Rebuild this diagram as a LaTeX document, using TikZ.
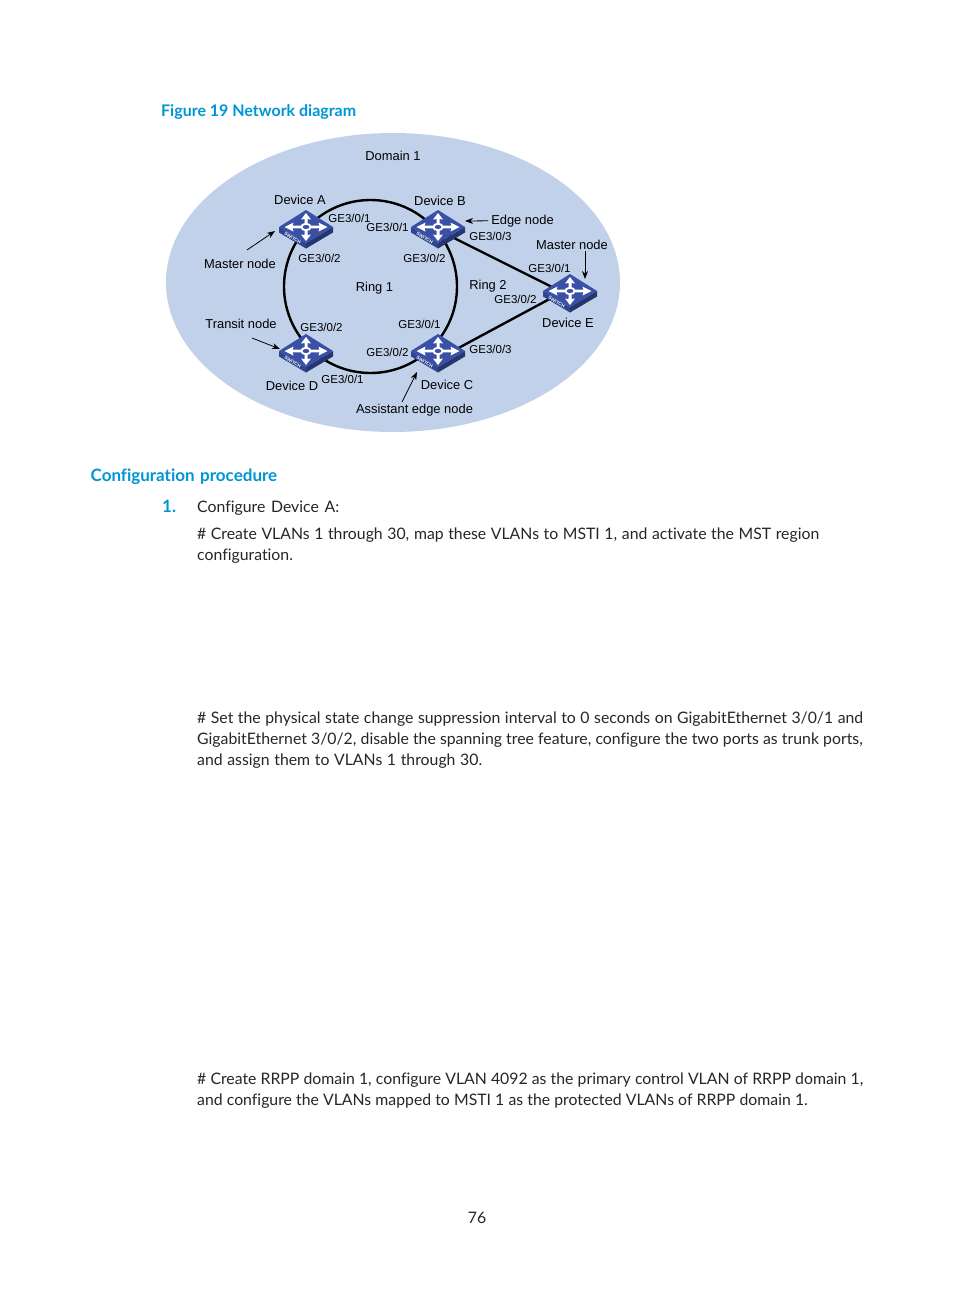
\documentclass[tikz,border=0pt]{standalone}
\usepackage{fontspec}
\setmainfont[Ligatures=NoCommon]{Lato}
\newfontfamily\diagfont{Liberation Sans}
\usetikzlibrary{arrows.meta}
\definecolor{domainblue}{HTML}{C2D1EA}
\definecolor{headblue}{HTML}{0096D6}
\definecolor{swtop}{HTML}{3A4FA6}
\definecolor{swleft}{HTML}{2F4590}
\definecolor{swright}{HTML}{26366F}
\tikzset{
  x=1pt,y=-1pt,
  diag/.style={font=\diagfont\fontsize{12.9}{14}\selectfont,inner sep=0pt,text=black,yshift=-0.8pt},
  port/.style={font=\diagfont\fontsize{11.5}{13}\selectfont,inner sep=0pt,text=black},
  body/.style={font=\fontsize{15.8}{18}\selectfont,inner sep=0pt,anchor=base west,text=black!85},
  head/.style={font=\bfseries\fontsize{17}{18}\selectfont,inner sep=0pt,anchor=base west,text=headblue},
  link/.style={line width=2.4pt,black},
  note/.style={line width=0.8pt,black,-{Stealth[length=8pt,width=6pt]}},
  swnode/.style={inner sep=0pt,minimum width=54pt,minimum height=38pt,shape=rectangle}
}
\newcommand{\switchicon}[1]{%
  \begin{scope}[shift={(#1)}]
    \fill[swleft] (-27,0) -- (0,16) -- (0,21.5) -- (-27,5.5) -- cycle;
    \fill[swright] (27,0) -- (0,16) -- (0,21.5) -- (27,5.5) -- cycle;
    \fill[swtop] (-27,0) -- (0,-17) -- (27,0) -- (0,16) -- cycle;
    \fill[white] (4,-1.3) -- (13.5,-1.3) -- (12.5,-4.5) -- (21.5,0) -- (12.5,4.5) -- (13.5,1.3) -- (4,1.3) -- cycle;
    \fill[white] (-4,-1.3) -- (-13.5,-1.3) -- (-12.5,-4.5) -- (-21.5,0) -- (-12.5,4.5) -- (-13.5,1.3) -- (-4,1.3) -- cycle;
    \fill[white] (-1.5,-3) -- (-1.5,-8) -- (-5,-7.5) -- (0,-14) -- (5,-7.5) -- (1.5,-8) -- (1.5,-3) -- cycle;
    \fill[white] (-1.5,3) -- (-1.5,8) -- (-5,7.5) -- (0,14) -- (5,7.5) -- (1.5,8) -- (1.5,3) -- cycle;
    \draw[white,line width=1.9pt,fill=swtop] (0,0) ellipse (4.6 and 3.2);
    \node[font=\diagfont\bfseries\fontsize{4.6}{5}\selectfont,text=white,rotate=-30.5,inner sep=0pt] at (-13.3,11) {SWITCH};
  \end{scope}}
\newcommand{\bodyline}[4]{\node[body] (#1) at (197,#2) {\makebox[#3][s]{#4}};}
\begin{document}
\begin{tikzpicture}
\useasboundingbox (0,0) rectangle (954,1296);
\fill[white] (0,0) rectangle (954,1296);
\node[head,font=\bfseries\fontsize{16}{18}\selectfont] (figtitle) at (161,116) {\makebox[195pt][s]{Figure 19 Network diagram}};
\node[fill=domainblue,shape=rectangle,inner sep=0pt,minimum size=0pt] (domainanchor) at (393,282.5) {};
\fill[domainblue] (domainanchor) ellipse (227 and 149.5);
\coordinate (ringcentre) at (370.5,286.5);
\draw[link] (ringcentre) circle (86.5);
\node[swnode] (devA) at (306,227) {};
\node[swnode] (devB) at (438,227) {};
\node[swnode] (devC) at (438,351) {};
\node[swnode] (devD) at (306,351) {};
\node[swnode] (devE) at (570,291) {};
\draw[link] ([yshift=-3pt]devB.center) -- ([yshift=-5pt]devE.center);
\draw[link] ([yshift=-8pt]devC.center) -- ([yshift=3pt]devE.center);
\switchicon{devA.center}
\switchicon{devB.center}
\switchicon{devC.center}
\switchicon{devD.center}
\switchicon{devE.center}
\node[diag] (domain) at (393,155) {Domain 1};
\node[diag] (labA) at (300,199) {Device A};
\node[diag] (labB) at (440,200) {Device B};
\node[diag] (labC) at (447,384) {Device C};
\node[diag] (labD) at (292,385) {Device D};
\node[diag] (labE) at (568,322) {Device E};
\node[diag] (ring1) at (374.5,287) {Ring 1};
\node[diag] (ring2) at (488,285) {Ring 2};
\node[diag] (edge) at (522.5,220) {Edge node};
\node[diag] (mastE) at (572,244) {Master node};
\node[diag] (mastA) at (240,263) {Master node};
\node[diag] (trans) at (241,323) {Transit node};
\node[diag] (assist) at (414.5,409.5) {Assistant edge node};
\node[port] at (349.5,218) {GE3/0/1};
\node[port] at (387.5,227) {GE3/0/1};
\node[port] at (319.5,258) {GE3/0/2};
\node[port] at (424.5,258) {GE3/0/2};
\node[port] at (490.5,236) {GE3/0/3};
\node[port] at (549.5,268) {GE3/0/1};
\node[port] at (515.5,299) {GE3/0/2};
\node[port] at (490.5,349) {GE3/0/3};
\node[port] at (419.5,324) {GE3/0/1};
\node[port] at (387.5,352) {GE3/0/2};
\node[port] at (321.5,327) {GE3/0/2};
\node[port] at (342.5,379) {GE3/0/1};
\coordinate (mastAtail) at (247,250);
\coordinate (mastAhead) at (275,231);
\draw[note] (mastAtail) -- (mastAhead);
\coordinate (edgehead) at (465,221);
\draw[note] (edge.west) ++(-3,0) -- (edgehead);
\coordinate (mastEtail) at (585,251);
\coordinate (mastEhead) at (585,279);
\draw[note] (mastEtail) -- (mastEhead);
\coordinate (transtail) at (252,338);
\coordinate (transhead) at (280,349);
\draw[note] (transtail) -- (transhead);
\coordinate (assisttail) at (402,402);
\coordinate (assisthead) at (417,372);
\draw[note] (assisttail) -- (assisthead);
\node[head] (confhead) at (90.5,481) {\makebox[186.5pt][s]{Configuration procedure}};
\node[head] (num1) at (162,512) {1.};
\bodyline{t1}{512}{142pt}{Configure Device A:}
\bodyline{t2}{539}{622pt}{\# Create VLANs 1 through 30, map these VLANs to MSTI 1, and activate the MST region}
\bodyline{t3}{560}{96pt}{configuration.}
\bodyline{t4}{723}{666pt}{\# Set the physical state change suppression interval to 0 seconds on GigabitEthernet 3/0/1 and}
\bodyline{t5}{744}{665.5pt}{GigabitEthernet 3/0/2, disable the spanning tree feature, configure the two ports as trunk ports,}
\bodyline{t6}{765}{285pt}{and assign them to VLANs 1 through 30.}
\bodyline{t7}{1084}{666pt}{\# Create RRPP domain 1, configure VLAN 4092 as the primary control VLAN of RRPP domain 1,}
\bodyline{t8}{1105}{610.5pt}{and configure the VLANs mapped to MSTI 1 as the protected VLANs of RRPP domain 1.}
\node[body,anchor=base] (pageno) at (477,1223) {76};
\end{tikzpicture}
\end{document}
